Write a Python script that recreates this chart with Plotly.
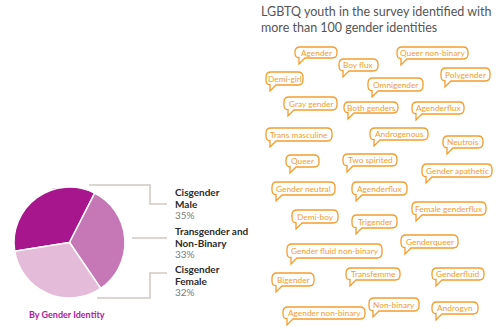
import plotly.graph_objects as go

# Pie data: share of respondents by gender identity
groups = ["Cisgender Male", "Transgender and Non-Binary", "Cisgender Female"]
group_lines = [["Cisgender", "Male"], ["Transgender and", "Non-Binary"], ["Cisgender", "Female"]]
shares = [35, 33, 32]
slice_colors = ["#a8168e", "#c678b6", "#e4bcd9"]

# Sample of identities written in by respondents
identities = [
    "Agender", "Queer non-binary", "Boy flux", "Demi-girl", "Polygender",
    "Omnigender", "Gray gender", "Both genders", "Agenderflux",
    "Trans masculine", "Androgenous", "Neutrois", "Queer", "Two spirited",
    "Gender apathetic", "Gender neutral", "Agenderflux", "Female genderflux",
    "Demi-boy", "Trigender", "Genderqueer", "Gender fluid non-binary",
    "Bigender", "Transfemme", "Genderfluid", "Non-binary",
    "Agender non-binary", "Androgyn",
]

# Layout boxes (x0, y0, x1, y1) in pixel units for each speech bubble
bubble_boxes = [
    (295, 47, 337, 58), (397, 47, 468, 59), (339, 59, 378, 71),
    (266, 72, 303, 85), (441, 68, 490, 81), (368, 78, 423, 91),
    (284, 97, 337, 110), (344, 102, 398, 113), (412, 102, 464, 114),
    (266, 128, 332, 141), (370, 128, 428, 140), (443, 136, 483, 148),
    (286, 155, 319, 167), (343, 154, 397, 166), (422, 164, 492, 177),
    (272, 182, 335, 195), (352, 182, 407, 195), (412, 202, 486, 215),
    (292, 210, 338, 223), (352, 215, 397, 228), (401, 235, 458, 248),
    (287, 244, 382, 258), (272, 273, 314, 286), (346, 268, 400, 280),
    (432, 268, 484, 280), (369, 298, 419, 311), (283, 307, 365, 319),
    (432, 302, 478, 314),
]

W, H = 500, 329
ORANGE = "#f59c2e"
LINE_GREY = "#cfc9c3"
FONT = "Lato"

fig = go.Figure()

# Pie placed in pixel-based domain
px0, px1, py0, py1 = 13, 126, 187, 298
fig.add_trace(go.Pie(
    labels=groups, values=shares, sort=False, direction="clockwise",
    rotation=261, textinfo="none", hoverinfo="skip", showlegend=False,
    marker=dict(colors=slice_colors, line=dict(color="white", width=1.5)),
    domain=dict(x=[px0 / W, px1 / W], y=[1 - py1 / H, 1 - py0 / H]),
))

# Invisible pixel-space axes for the annotation layer
fig.update_xaxes(range=[0, W], visible=False, fixedrange=True)
fig.update_yaxes(range=[H, 0], visible=False, fixedrange=True)
fig.add_trace(go.Scatter(x=[0], y=[0], mode="markers", marker=dict(opacity=0),
                         hoverinfo="skip", showlegend=False))

shapes = []
annotations = []


def seg(points):
    d = "M " + " L ".join(f"{x},{y}" for x, y in points)
    shapes.append(dict(type="path", path=d, xref="x", yref="y",
                       line=dict(color=LINE_GREY, width=1.5)))


# Leader lines from slices to labels
seg([(89, 185), (150, 185), (150, 204), (167, 204)])
seg([(132, 238), (167, 238)])
seg([(97, 298), (150, 298), (150, 273), (167, 273)])

label_tops = [192, 231, 269]
for lines, pct, y in zip(group_lines, shares, label_tops):
    annotations.append(dict(x=173, y=y, xref="x", yref="y", xanchor="left", yanchor="middle",
                            text=f"<b>{lines[0]}</b>", showarrow=False,
                            font=dict(family=FONT, size=10, color="#2b2b2b")))
    annotations.append(dict(x=173, y=y + 11.5, xref="x", yref="y", xanchor="left", yanchor="middle",
                            text=f"<b>{lines[1]}</b>", showarrow=False,
                            font=dict(family=FONT, size=10, color="#2b2b2b")))
    annotations.append(dict(x=173, y=y + 23, xref="x", yref="y", xanchor="left", yanchor="middle",
                            text=f"{pct}%", showarrow=False,
                            font=dict(family=FONT, size=10, color="#7a7a7a")))

annotations.append(dict(x=67, y=314, xref="x", yref="y", xanchor="center", yanchor="middle",
                        text="<b>By Gender Identity</b>", showarrow=False,
                        font=dict(family=FONT, size=9, color="#b3179a")))

annotations.append(dict(x=259, y=19, xref="x", yref="y", xanchor="left", yanchor="middle",
                        text="LGBTQ youth in the survey identified with<br>more than 100 gender identities",
                        align="left", showarrow=False,
                        font=dict(family=FONT, size=12.5, color="#555555")))


def bubble_path(x0, y0, x1, y1):
    r = min(5, (y1 - y0) / 2)
    tx = x0 + 4
    return (f"M {x0 + r},{y0} L {x1 - r},{y0} Q {x1},{y0} {x1},{y0 + r} "
            f"L {x1},{y1 - r} Q {x1},{y1} {x1 - r},{y1} "
            f"L {tx + 6},{y1} L {tx},{y1 + 6} L {tx},{y1 - 0.5} "
            f"Q {x0},{y1} {x0},{y1 - r} L {x0},{y0 + r} Q {x0},{y0} {x0 + r},{y0} Z")


for name, (x0, y0, x1, y1) in zip(identities, bubble_boxes):
    shapes.append(dict(type="path", path=bubble_path(x0, y0, x1, y1), xref="x", yref="y",
                       line=dict(color=ORANGE, width=1.3), fillcolor="white"))
    annotations.append(dict(x=(x0 + x1) / 2, y=(y0 + y1) / 2, xref="x", yref="y",
                            xanchor="center", yanchor="middle", text=name, showarrow=False,
                            font=dict(family=FONT, size=8.3, color=ORANGE)))

fig.update_layout(
    width=W, height=H, margin=dict(l=0, r=0, t=0, b=0),
    paper_bgcolor="white", plot_bgcolor="white",
    shapes=shapes, annotations=annotations,
)

fig.write_html("out.html")
